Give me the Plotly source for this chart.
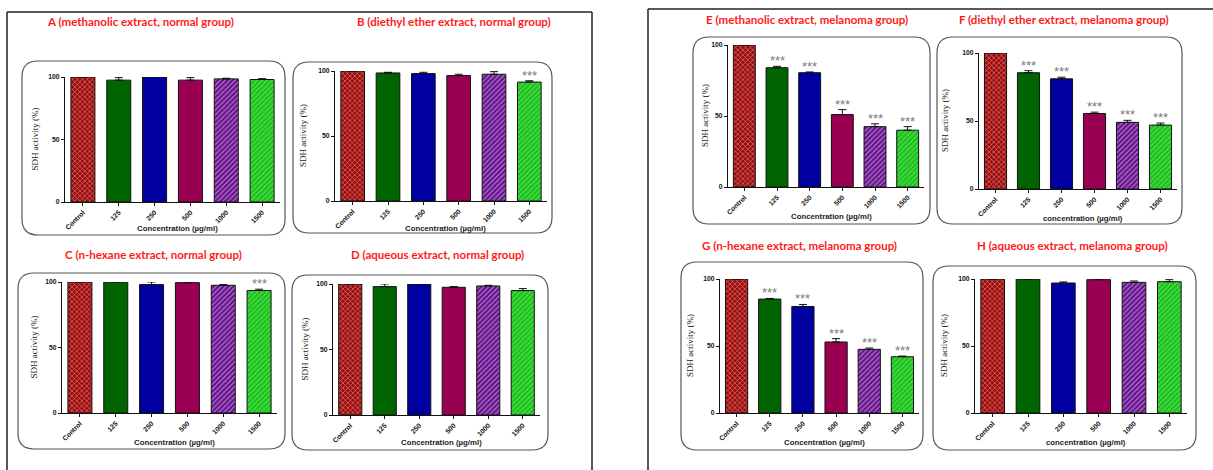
import plotly.graph_objects as go

W, H = 1213, 470

categories = ["Control", "125", "250", "500", "1000", "1500"]

titles = [
    "A (methanolic extract, normal group)",
    "B (diethyl ether extract, normal group)",
    "C (n-hexane extract, normal group)",
    "D (aqueous extract, normal group)",
    "E (methanolic extract, melanoma group)",
    "F (diethyl ether extract, melanoma group)",
    "G (n-hexane extract, melanoma group)",
    "H (aqueous extract, melanoma group)",
]
x_titles = [
    "Concentration (µg/ml)", "Concentration (µg/ml)",
    "Concentration (µg/ml)", "Concentration (µg/ml)",
    "Concentration (µg/ml)", "concentration (µg/ml)",
    "Concentration (µg/ml)", "concentration (µg/ml)",
]
y_title = "SDH activity (%)"
y_ticks = [0, 50, 100]

A_vals = [100, 97.5, 100, 97.5, 98.5, 98.0]
A_err = [0, 2.0, 0.3, 2.0, 0.5, 0.7]
A_sig = [0, 0, 0, 0, 0, 0]

B_vals = [100, 98.5, 98.0, 96.5, 97.5, 91.5]
B_err = [0, 0.5, 1.0, 1.0, 2.0, 1.0]
B_sig = [0, 0, 0, 0, 0, 1]

C_vals = [100, 100, 98.0, 99.5, 97.5, 93.5]
C_err = [0, 0.2, 2.0, 0.5, 0.5, 1.0]
C_sig = [0, 0, 0, 0, 0, 1]

D_vals = [100, 98.0, 100, 97.5, 98.5, 95.0]
D_err = [0, 2.0, 0.2, 0.5, 0.5, 1.5]
D_sig = [0, 0, 0, 0, 0, 0]

E_vals = [100, 84.0, 80.5, 51.0, 42.5, 40.0]
E_err = [0, 1.0, 0.5, 3.5, 2.0, 2.5]
E_sig = [0, 1, 1, 1, 1, 1]

F_vals = [100, 85.5, 81.0, 55.5, 49.0, 47.0]
F_err = [0, 1.5, 1.2, 1.0, 1.5, 1.5]
F_sig = [0, 1, 1, 1, 1, 1]

G_vals = [100, 85.0, 79.5, 53.0, 47.5, 42.0]
G_err = [0, 0.5, 1.5, 2.5, 1.0, 0.5]
G_sig = [0, 1, 1, 1, 1, 1]

H_vals = [100, 100, 97.0, 99.5, 97.5, 98.0]
H_err = [0, 0.2, 0.8, 0.3, 1.0, 1.5]
H_sig = [0, 0, 0, 0, 0, 0]

all_vals = [A_vals, B_vals, C_vals, D_vals, E_vals, F_vals, G_vals, H_vals]
all_err = [A_err, B_err, C_err, D_err, E_err, F_err, G_err, H_err]
all_sig = [A_sig, B_sig, C_sig, D_sig, E_sig, F_sig, G_sig, H_sig]

# styling
bar_colors = ["#a00808", "#006400", "#0000a0", "#990052", "#640a8c", "#2ae62a"]
pat_shapes = ["x", "", "", "", "/", "/"]

# geometry in pixels: box(x0,y0,x1,y1), plot(xl,xr,ytop,ybot), title(cx,cy), ytitle x, xtitle y
geo = [
    dict(box=(22, 61, 285, 235), plot=(65, 280, 77, 202), title=(140, 21), yt=35, xt=228),
    dict(box=(293, 62, 552, 233), plot=(335, 547, 71, 201), title=(454, 21), yt=303, xt=228),
    dict(box=(18, 273, 285, 449), plot=(62, 277, 282, 413), title=(153, 255), yt=33, xt=442),
    dict(box=(292, 275, 548, 450), plot=(333, 540, 284, 415), title=(437, 255), yt=304, xt=442),
    dict(box=(693, 37, 930, 224), plot=(728, 924, 45, 187), title=(807, 19), yt=705, xt=216),
    dict(box=(937, 37, 1182, 224), plot=(979, 1177, 53, 189), title=(1064, 19), yt=945, xt=218),
    dict(box=(681, 262, 923, 450), plot=(720, 919, 279, 413), title=(799, 245), yt=690, xt=442),
    dict(box=(933, 266, 1196, 450), plot=(975, 1187, 279, 413), title=(1072, 245), yt=944, xt=442),
]


def px(x):
    return x / W


def py(y):
    return 1 - y / H


def rrect(x0, y0, x1, y1, r=16):
    def P(x, y):
        return f"{px(x):.5f},{py(y):.5f}"
    d = (f"M {P(x0 + r, y0)} L {P(x1 - r, y0)} Q {P(x1, y0)} {P(x1, y0 + r)} "
         f"L {P(x1, y1 - r)} Q {P(x1, y1)} {P(x1 - r, y1)} "
         f"L {P(x0 + r, y1)} Q {P(x0, y1)} {P(x0, y1 - r)} "
         f"L {P(x0, y0 + r)} Q {P(x0, y0)} {P(x0 + r, y0)} Z")
    return d


fig = go.Figure()
layout = dict(
    width=W, height=H, margin=dict(l=0, r=0, t=0, b=0, autoexpand=False),
    paper_bgcolor="white", plot_bgcolor="white", showlegend=False,
    bargap=0.33, template="none",
)
shapes = []
annotations = []

tickfont = dict(family="Liberation Sans", size=6.8, color="#111", weight="bold")

for i in range(8):
    g = geo[i]
    xn = "x" if i == 0 else f"x{i + 1}"
    yn = "y" if i == 0 else f"y{i + 1}"
    xk = "xaxis" if i == 0 else f"xaxis{i + 1}"
    yk = "yaxis" if i == 0 else f"yaxis{i + 1}"
    xl, xr, yt, yb = g["plot"]
    vals, err, sig = all_vals[i], all_err[i], all_sig[i]

    fig.add_trace(go.Bar(
        x=categories, y=vals, xaxis=xn, yaxis=yn, cliponaxis=False,
        marker=dict(color=bar_colors, line=dict(color="#111", width=1),
                    pattern=dict(shape=pat_shapes, fgcolor="#000000", fgopacity=0.5,
                                 size=3.5, solidity=0.35, fillmode="overlay")),
        error_y=dict(type="data", symmetric=False, array=err, arrayminus=[0] * 6,
                     color="#111", thickness=1, width=4),
    ))
    layout[xk] = dict(domain=[px(xl), px(xr)], anchor=yn, type="category",
                      categoryorder="array", categoryarray=categories,
                      showline=True, linecolor="#111", automargin=False,
                      linewidth=1, ticks="outside", ticklen=3, tickcolor="#111",
                      tickangle=-45, tickfont=tickfont, showgrid=False, zeroline=False,
                      fixedrange=True)
    layout[yk] = dict(domain=[py(yb), py(yt)], anchor=xn, range=[0, 100], showline=True,
                      linecolor="#111", linewidth=1, ticks="outside", ticklen=3,
                      tickcolor="#111", tickvals=y_ticks, tickfont=tickfont, automargin=False,
                      showgrid=False, zeroline=False, fixedrange=True)

    x0, y0, x1, y1 = g["box"]
    shapes.append(dict(type="path", xref="paper", yref="paper", path=rrect(x0, y0, x1, y1),
                       line=dict(color="#555", width=1.2), fillcolor="rgba(0,0,0,0)", layer="below"))

    cx, cy = g["title"]
    annotations.append(dict(xref="paper", yref="paper", x=px(cx), y=py(cy), text=titles[i],
                            showarrow=False, xanchor="center", yanchor="middle",
                            font=dict(family="Lato", size=11.5, color="#ff1a1a", weight="bold")))
    annotations.append(dict(xref="paper", yref="paper", x=px(g["yt"]), y=py((yt + yb) / 2),
                            text=y_title, textangle=-90, showarrow=False,
                            xanchor="center", yanchor="middle",
                            font=dict(family="Liberation Serif", size=9, color="#222")))
    annotations.append(dict(xref="paper", yref="paper", x=px((xl + xr) / 2 + 5), y=py(g["xt"]),
                            text=x_titles[i], showarrow=False, xanchor="center", yanchor="middle",
                            font=dict(family="Liberation Sans", size=7.8, color="#222", weight="bold")))
    for k, (v, e, s) in enumerate(zip(vals, err, sig)):
        if s:
            annotations.append(dict(xref=xn, yref=yn, x=k, y=v + e, text="***", showarrow=False,
                                    xanchor="center", yanchor="bottom", yshift=-4,
                                    font=dict(family="Liberation Sans", size=13, color="#7a7a7a")))

# outer frames
frame = dict(color="#222", width=1.5)
for (a, b, c, d) in [(7, 12, 7, 475), (7, 12, 592, 12), (592, 12, 592, 475),
                     (648, 9, 1215, 9), (648, 9, 648, 475)]:
    shapes.append(dict(type="line", xref="paper", yref="paper", x0=px(a), y0=py(b),
                       x1=px(c), y1=py(d), line=frame))

layout["shapes"] = shapes
layout["annotations"] = annotations
fig.update_layout(**layout)
fig.write_html("out.html", config={"displayModeBar": False},
               post_script="document.body.style.margin='0';document.body.style.overflow='hidden';")
